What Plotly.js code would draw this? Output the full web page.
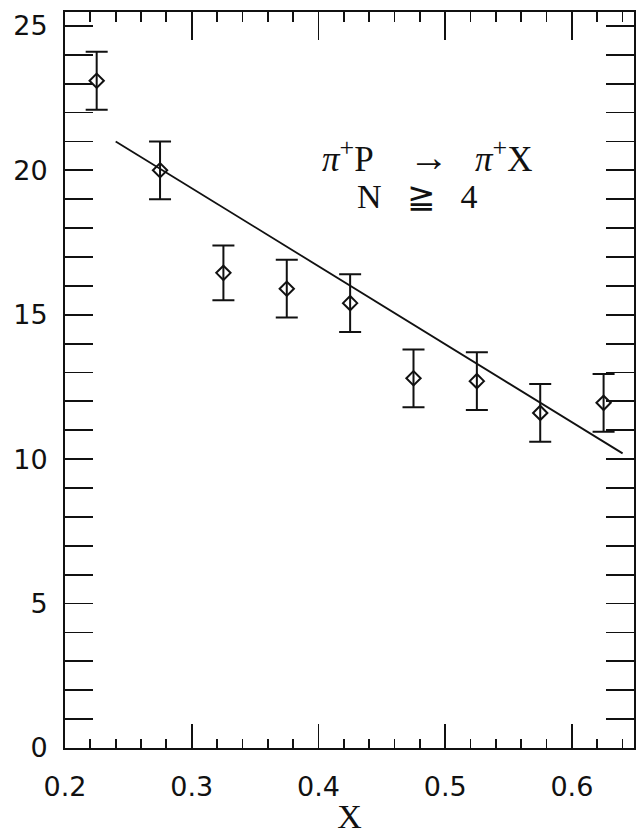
<!DOCTYPE html>
<html>
<head>
<meta charset="utf-8">
<script src="https://cdn.plot.ly/plotly-3.0.1.min.js"></script>
<style>
  html, body { margin: 0; padding: 0; background: #fff; }
  #chart { width: 636px; height: 835px; }
</style>
</head>
<body>
<div id="chart"></div>
<script>
// Mean multiplicity data, pi+ p -> pi+ X, N >= 4
const xValues = [0.225, 0.275, 0.325, 0.375, 0.425, 0.475, 0.525, 0.575, 0.625];
const yValues = [23.1, 20.0, 16.45, 15.9, 15.4, 12.8, 12.7, 11.6, 11.95];
const yErrors = [1.0, 1.0, 0.95, 1.0, 1.0, 1.0, 1.0, 1.0, 1.0];

// Straight-line fit
const fitX = [0.24, 0.64];
const fitY = [21.0, 10.2];

const xTickVals = [0.2, 0.3, 0.4, 0.5, 0.6];
const xTickText = ['0.2', '0.3', '0.4', '0.5', '0.6'];
const yTickVals = [0, 5, 10, 15, 20, 25];
const yTickText = ['0', '5', '10', '15', '20', '25'];

const ink = '#111';
const labelFont = { family: 'DejaVu Sans, sans-serif', size: 27, color: ink };
const serif = 'Liberation Serif, DejaVu Serif, serif';
const gap = '\u00a0\u00a0\u00a0';
const wideGap = '\u00a0\u00a0\u00a0\u00a0';
const plus = '<sup><span style="font-size:26px">+</span></sup>';

const traces = [
  {
    x: fitX, y: fitY, type: 'scatter', mode: 'lines',
    line: { color: ink, width: 1.8 }, hoverinfo: 'skip'
  },
  {
    x: xValues, y: yValues, type: 'scatter', mode: 'markers',
    marker: { symbol: 'diamond-open', size: 11, color: ink, line: { width: 2, color: ink } },
    error_y: { type: 'data', array: yErrors, visible: true, color: ink, thickness: 2, width: 11 }
  },
  // invisible trace to carry the top axis
  { x: [0.3], y: [0], xaxis: 'x2', type: 'scatter', mode: 'markers', marker: { opacity: 0 }, hoverinfo: 'skip' }
];

const commonAxis = {
  showgrid: false, zeroline: false, showline: true,
  linecolor: ink, linewidth: 2,
  ticks: 'inside', tickcolor: ink, tickwidth: 1.8
};

const layout = {
  width: 636, height: 835,
  margin: { l: 65, r: 2, t: 12, b: 87 },
  paper_bgcolor: '#fff', plot_bgcolor: '#fff',
  showlegend: false,
  xaxis: Object.assign({}, commonAxis, {
    range: [0.2, 0.649],
    tickvals: xTickVals, ticktext: xTickText,
    ticklen: 24, mirror: true,
    minor: { dtick: 0.02, ticks: 'inside', ticklen: 9, tickcolor: ink, tickwidth: 1.8, showgrid: false },
    tickfont: labelFont, ticklabelstandoff: 14,
    title: { text: 'X', font: { family: serif, size: 34, color: ink }, standoff: 6 }
  }),
  xaxis2: Object.assign({}, commonAxis, {
    overlaying: 'x', matches: 'x', side: 'top', range: [0.2, 0.649],
    tickvals: xTickVals, ticklen: 28, showticklabels: false,
    minor: { dtick: 0.02, ticks: 'inside', ticklen: 10, tickcolor: ink, tickwidth: 1.8, showgrid: false }
  }),
  yaxis: Object.assign({}, commonAxis, {
    range: [0, 25.48],
    tickvals: yTickVals, ticktext: yTickText,
    ticklen: 28, mirror: 'allticks',
    minor: { dtick: 1, ticks: 'inside', ticklen: 11, tickcolor: ink, tickwidth: 1.8, showgrid: false },
    tickfont: labelFont, ticklabelstandoff: 10
  }),
  annotations: [
    {
      xref: 'paper', yref: 'paper', x: 0.636, y: 0.803,
      xanchor: 'center', yanchor: 'middle',
      text: '<i>π</i>' + plus + 'P' + wideGap + '<span style="font-size:40px">→</span>' + gap + '<i>π</i>' + plus + 'X',
      showarrow: false, font: { family: serif, size: 35, color: ink }
    },
    {
      xref: 'paper', yref: 'paper', x: 0.62, y: 0.749,
      xanchor: 'center', yanchor: 'middle',
      text: 'N' + gap + '≧' + gap + '4',
      showarrow: false, font: { family: serif, size: 34, color: ink }
    }
  ]
};

Plotly.newPlot('chart', traces, layout, { displayModeBar: false, staticPlot: true });
</script>
</body>
</html>
